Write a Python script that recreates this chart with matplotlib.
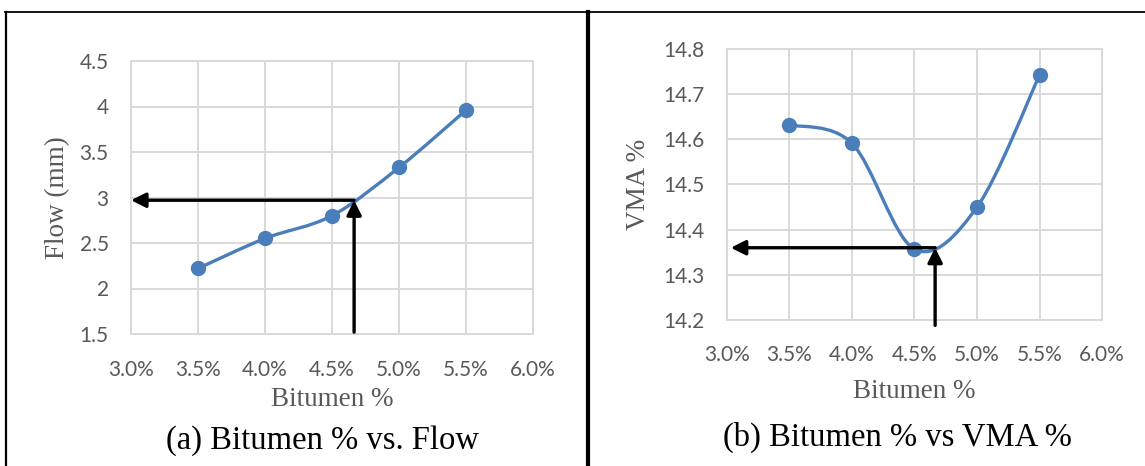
import matplotlib
matplotlib.use("Agg")
import matplotlib.pyplot as plt
from matplotlib.path import Path
from matplotlib.patches import PathPatch
from matplotlib.lines import Line2D
from matplotlib.ticker import FuncFormatter, MultipleLocator

# data
bitumen = [3.5, 4.0, 4.5, 5.0, 5.5]
flow = [2.22, 2.55, 2.80, 3.33, 3.96]
vma = [14.632, 14.591, 14.357, 14.45, 14.742]

flow_opt = (4.665, 2.97)
vma_opt = (4.665, 14.36)

BLUE = "#4a7ebb"
GRID = "#d9d9d9"
TXT = "#595959"
TICK_FONT = "Lato"
SERIF = "Liberation Serif"


def smooth_path(xs, ys):
    """Excel-like smoothed line: cubic Bezier through every point."""
    n = len(xs)
    verts = [(xs[0], ys[0])]
    codes = [Path.MOVETO]
    for i in range(n - 1):
        p0 = max(i - 1, 0)
        p3 = min(i + 2, n - 1)
        c1 = (xs[i] + (xs[i + 1] - xs[p0]) / 6, ys[i] + (ys[i + 1] - ys[p0]) / 6)
        c2 = (xs[i + 1] - (xs[p3] - xs[i]) / 6, ys[i + 1] - (ys[p3] - ys[i]) / 6)
        verts += [c1, c2, (xs[i + 1], ys[i + 1])]
        codes += [Path.CURVE4] * 3
    return Path(verts, codes)


def style_axes(ax, ylim, ystep, yfmt, xpad, ypad):
    ax.set_xlim(3.0, 6.0)
    ax.set_ylim(*ylim)
    ax.xaxis.set_major_locator(MultipleLocator(0.5))
    ax.yaxis.set_major_locator(MultipleLocator(ystep))
    ax.xaxis.set_major_formatter(FuncFormatter(lambda v, p: f"{v:.1f}%"))
    ax.yaxis.set_major_formatter(FuncFormatter(yfmt))
    ax.grid(True, color=GRID, lw=1.4)
    ax.set_axisbelow(True)
    for s in ax.spines.values():
        s.set_color(GRID)
        s.set_linewidth(1.4)
    ax.tick_params(length=0, labelsize=15, labelcolor=TXT)
    ax.tick_params(axis="x", pad=xpad)
    ax.tick_params(axis="y", pad=ypad)
    for lab in ax.get_xticklabels() + ax.get_yticklabels():
        lab.set_fontfamily(TICK_FONT)


def draw_series(ax, xs, ys):
    ax.add_patch(PathPatch(smooth_path(xs, ys), fill=False, edgecolor=BLUE,
                           lw=2.4, capstyle="round", zorder=3))
    ax.plot(xs, ys, "o", color=BLUE, ms=10, zorder=4)


def draw_arrows(ax, opt, xstart_h, ybottom):
    kw = dict(arrowstyle="-|>", color="black", lw=2.4, mutation_scale=22,
              shrinkA=0, shrinkB=0)
    ax.annotate("", xy=(xstart_h, opt[1]), xytext=opt, arrowprops=kw,
                zorder=5, annotation_clip=False)
    ax.annotate("", xy=opt, xytext=(opt[0], ybottom), arrowprops=kw,
                zorder=5, annotation_clip=False)


fig = plt.figure(figsize=(11.45, 4.66), dpi=100)

# (a) flow
ax1 = fig.add_axes([131 / 1145, 1 - 334 / 466, 402 / 1145, 273 / 466])
style_axes(ax1, (1.5, 4.5), 0.5, lambda v, p: f"{v:g}", 19, 16)
draw_series(ax1, bitumen, flow)
draw_arrows(ax1, flow_opt, 3.0, 1.52)
ax1.set_xlabel("Bitumen %", fontfamily=SERIF, fontsize=19.5, color=TXT, labelpad=5)
ax1.set_ylabel("Flow (mm)", fontfamily=SERIF, fontsize=19.5, color=TXT, labelpad=7)

# (b) VMA
ax2 = fig.add_axes([727 / 1145, 1 - 320 / 466, 375 / 1145, 271 / 466])
style_axes(ax2, (14.2, 14.8), 0.1, lambda v, p: f"{v:.1f}", 18, 16)
draw_series(ax2, bitumen, vma)
draw_arrows(ax2, vma_opt, 3.03, 14.188)
ax2.set_xlabel("Bitumen %", fontfamily=SERIF, fontsize=19.5, color=TXT, labelpad=10)
ax2.set_ylabel("VMA %", fontfamily=SERIF, fontsize=19.5, color=TXT, labelpad=9)

# captions
fig.text(322 / 1145, 1 - 441 / 466, "(a) Bitumen % vs. Flow", fontfamily=SERIF,
         fontsize=23.5, ha="center", va="center", color="black")
fig.text(897 / 1145, 1 - 437 / 466, "(b) Bitumen % vs VMA %", fontfamily=SERIF,
         fontsize=23.5, ha="center", va="center", color="black")

# table-like frame around the panels
top = 1 - 12 / 466
fig.add_artist(Line2D([5 / 1145, 1], [top, top], color="black", lw=1.3,
                      transform=fig.transFigure))
fig.add_artist(Line2D([6 / 1145, 6 / 1145], [0, top], color="black", lw=1.6,
                      transform=fig.transFigure))
fig.add_artist(Line2D([588 / 1145, 588 / 1145], [0, top], color="black", lw=3,
                      transform=fig.transFigure))

fig.savefig("out.png", dpi=100)
